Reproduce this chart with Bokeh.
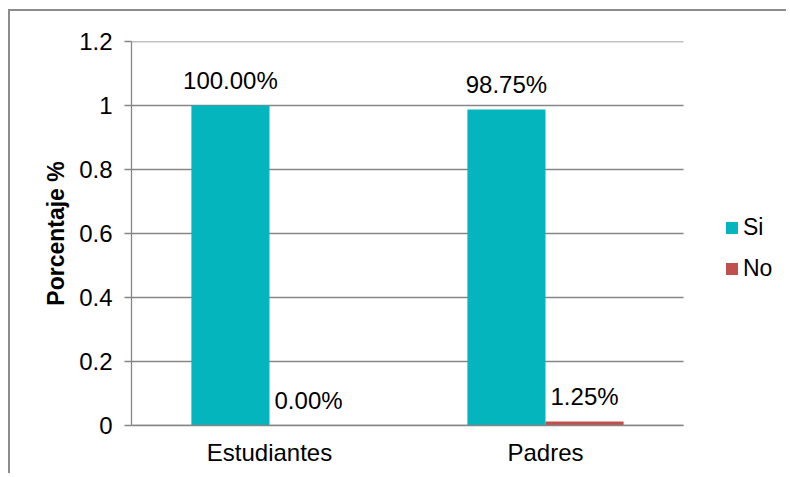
from bokeh.plotting import figure
from bokeh.models import (Range1d, ColumnDataSource, LabelSet, Legend, LegendItem,
                          FixedTicker, CustomJSTickFormatter)
from bokeh.core.properties import value
from bokeh.embed import file_html
from bokeh.resources import INLINE

categories = ["Estudiantes", "Padres"]
si_values = [1.0, 0.9875]
no_values = [0.0, 0.0125]
series_names = ["Si", "No"]
y_ticks = [0, 0.2, 0.4, 0.6, 0.8, 1.0, 1.2]

SI_COLOR = "#04B5BE"
NO_COLOR = "#C0504D"
GRID = "#868686"
FONT = "Liberation Sans"

# layout (pixels)
FIG_W, FIG_H = 778, 464
LEFT, TOP, BOTTOM = 121, 30, 50
PLOT_PX = 552                     # width of the category area
FRAME_PX = FIG_W - LEFT           # frame runs to the right edge (room for legend)
n = len(categories)
x_end = n * FRAME_PX / PLOT_PX

bw = 0.283
centers = [i + 0.5 for i in range(n)]
src = ColumnDataSource(dict(
    x_si=[c - bw / 2 for c in centers],
    x_no=[c + bw / 2 for c in centers],
    si=si_values,
    no=no_values,
    si_lab=[f"{v*100:.2f}%" for v in si_values],
    no_lab=[f"{v*100:.2f}%" for v in no_values],
))

p = figure(x_range=Range1d(0, x_end), y_range=Range1d(0, 1.2),
           width=FIG_W, height=FIG_H, output_backend="svg", toolbar_location=None,
           min_border_left=LEFT, min_border_right=0, min_border_top=TOP,
           min_border_bottom=BOTTOM)
p.styles = {"border-top": "2px solid #8c8c8c", "border-left": "2px solid #8c8c8c",
            "margin-top": "9px", "margin-left": "8px"}
p.outline_line_color = None
p.background_fill_color = "white"
p.border_fill_color = "white"

# horizontal gridlines over the category area only
p.xgrid.visible = False
p.ygrid.visible = False
p.segment(x0=[0] * len(y_ticks), x1=[n] * len(y_ticks), y0=y_ticks, y1=y_ticks,
          line_color=GRID, line_width=1.3)

r_si = p.vbar(x="x_si", top="si", width=bw, source=src, fill_color=SI_COLOR, line_color=None)
r_no = p.vbar(x="x_no", top="no", width=bw, source=src, fill_color=NO_COLOR, line_color=None)

for xcol, col, lab in (("x_si", "si", "si_lab"), ("x_no", "no", "no_lab")):
    p.add_layout(LabelSet(x=xcol, y=col, text=lab, source=src,
                          y_offset=17, text_align="center", text_baseline="alphabetic",
                          text_font=value(FONT), text_font_size=value("24px"),
                          text_color="black"))

# y axis
p.yaxis.ticker = FixedTicker(ticks=y_ticks)
p.yaxis.formatter = CustomJSTickFormatter(code="return String(Math.round(tick*10)/10);")
p.yaxis.axis_line_color = GRID
p.yaxis.axis_line_width = 1.3
p.yaxis.major_tick_line_color = GRID
p.yaxis.major_tick_line_width = 1.3
p.yaxis.major_tick_out = 7
p.yaxis.major_tick_in = 0
p.yaxis.minor_tick_line_color = None
p.yaxis.major_label_standoff = 12
p.yaxis.major_label_text_font = FONT
p.yaxis.major_label_text_font_size = "24px"
p.yaxis.major_label_text_color = "black"
p.yaxis.axis_label = "Porcentaje %"
p.yaxis.axis_label_text_font = FONT
p.yaxis.axis_label_text_font_size = "23px"
p.yaxis.axis_label_text_font_style = "bold"
p.yaxis.axis_label_text_color = "black"
p.yaxis.axis_label_standoff = 7

# x axis (categories)
p.xaxis.bounds = (0, n)
p.xaxis.ticker = FixedTicker(ticks=centers)
p.xaxis.formatter = CustomJSTickFormatter(args=dict(labels=categories),
                                          code="return labels[Math.floor(tick)];")
p.xaxis.axis_line_color = GRID
p.xaxis.axis_line_width = 1.3
p.xaxis.major_tick_line_color = None
p.xaxis.minor_tick_line_color = None
p.xaxis.major_tick_out = 0
p.xaxis.major_tick_in = 0
p.xaxis.major_label_standoff = 13
p.xaxis.major_label_text_font = FONT
p.xaxis.major_label_text_font_size = "24px"
p.xaxis.major_label_text_color = "black"

legend = Legend(items=[LegendItem(label=series_names[0], renderers=[r_si]),
                       LegendItem(label=series_names[1], renderers=[r_no])],
                location=(593, 143), orientation="vertical",
                glyph_width=15, glyph_height=15, label_standoff=4, spacing=14,
                padding=0, margin=0, border_line_color=None, background_fill_alpha=0,
                label_text_font=FONT, label_text_font_size="23px", label_text_color="black")
p.add_layout(legend, "center")

open("out.html", "w").write(file_html(p, INLINE))
